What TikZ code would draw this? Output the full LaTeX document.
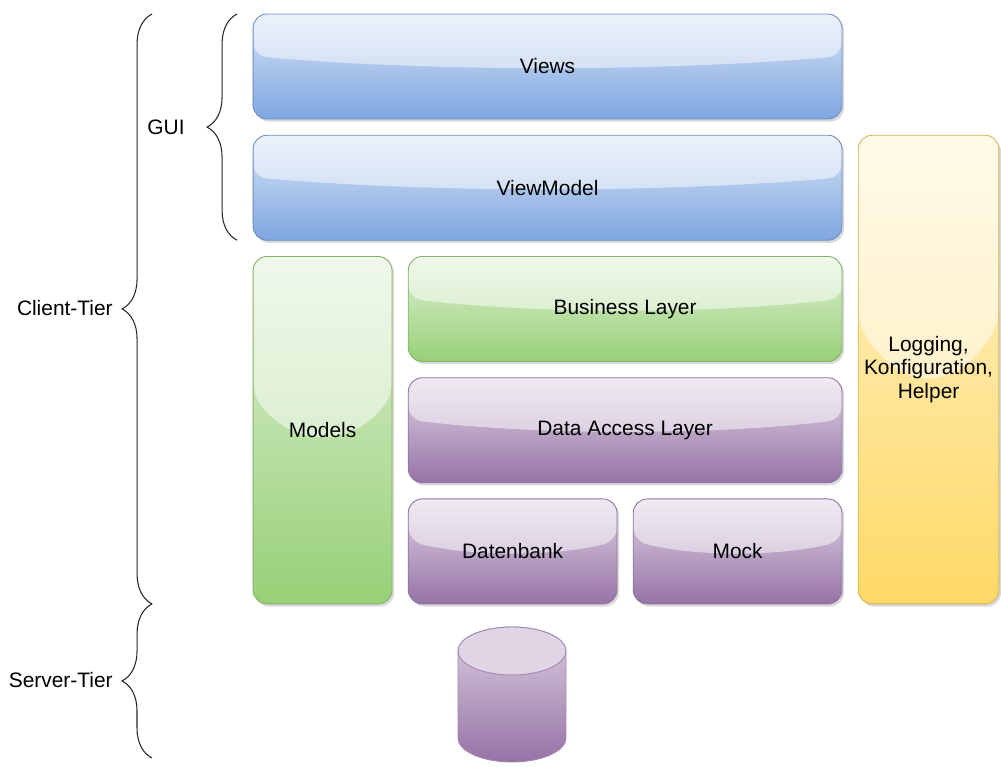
\documentclass[tikz,border=0pt]{standalone}
\usepackage{fontspec}
\setmainfont{Liberation Sans}
\usetikzlibrary{positioning,calc,shadows,decorations.pathreplacing}

\definecolor{guiblue}{HTML}{7EA6E0}
\definecolor{guibluedark}{HTML}{6C8EBF}
\definecolor{modelgreen}{HTML}{97D077}
\definecolor{modelgreendark}{HTML}{82B366}
\definecolor{datapurple}{HTML}{9673A6}
\definecolor{datapurpledark}{HTML}{8E74A0}
\definecolor{helperyellow}{HTML}{FFD966}
\definecolor{helperyellowdark}{HTML}{D6B656}

\tikzset{
    layer/.style={rectangle, rounded corners=0.28cm, line width=0.5pt, outer sep=0pt,
        font=\fontsize{11.9}{13.6}\selectfont, align=center,
        drop shadow={shadow xshift=1.2pt, shadow yshift=-1.5pt, opacity=0.3},
        path picture={
            \path let \p1=(path picture bounding box.north west),
                      \p2=(path picture bounding box.south east) in
                [fill=white, fill opacity=0.5]
                (\x1,\y1) -- (\x1,\y1+0.4*\y2-0.4*\y1)
                .. controls (\x1+0.3*\x2-0.3*\x1,\y1+0.55*\y2-0.55*\y1)
                       and (\x1+0.7*\x2-0.7*\x1,\y1+0.55*\y2-0.55*\y1)
                .. (\x2,\y1+0.4*\y2-0.4*\y1) -- (\x2,\y1) -- cycle;
        }},
    bluelayer/.style={layer, draw=guibluedark, top color=guiblue!30!white, bottom color=guiblue},
    greenlayer/.style={layer, draw=modelgreendark, top color=modelgreen!30!white, bottom color=modelgreen},
    purplelayer/.style={layer, draw=datapurpledark, top color=datapurple!30!white, bottom color=datapurple},
    yellowlayer/.style={layer, draw=helperyellowdark, top color=helperyellow!30!white, bottom color=helperyellow},
    tierbrace/.style={decorate, decoration={brace, amplitude=#1}, line width=0.6pt, black!85},
    tierlabel/.style={anchor=east, inner sep=0pt, font=\fontsize{11.9}{13.6}\selectfont}
}

\begin{document}
\begin{tikzpicture}[x=0.02cm, y=-0.02cm, node distance=0.325cm]

    \useasboundingbox (0,0) rectangle (1001,767);

    % GUI
    \node[bluelayer, minimum width=11.78cm, minimum height=2.1cm] (views) at (547.5,66.5) {Views};
    \node[bluelayer, minimum width=11.78cm, minimum height=2.1cm, below=of views] (viewmodel) {ViewModel};

    % Client layers
    \node[greenlayer, minimum width=2.78cm, minimum height=6.95cm, below=of viewmodel.south west, anchor=north west] (models) {Models};
    \node[greenlayer, minimum width=8.675cm, minimum height=2.1cm, below=of viewmodel.south east, anchor=north east] (business) {Business Layer};
    \node[purplelayer, minimum width=8.675cm, minimum height=2.1cm, below=of business] (dataaccess) {Data Access Layer};
    \node[purplelayer, minimum width=4.175cm, minimum height=2.1cm, below=of dataaccess.south west, anchor=north west] (datenbank) {Datenbank};
    \node[purplelayer, minimum width=4.175cm, minimum height=2.1cm, below=of dataaccess.south east, anchor=north east] (mock) {Mock};

    % Cross-cutting
    \node[yellowlayer, minimum width=2.8cm, minimum height=9.375cm, right=of viewmodel.north east, anchor=north west] (logging) {Logging,\\Konfiguration,\\Helper};

    % Server database
    \coordinate (dbtop) at (512,651);
    \draw[draw=datapurple!85, top color=datapurple!35!white, bottom color=datapurple, line width=0.5pt]
        (458,651) -- (458,738) arc[start angle=180, end angle=360, x radius=1.08cm, y radius=0.48cm]
        -- (566,651) arc[start angle=0, end angle=180, x radius=1.08cm, y radius=0.48cm] -- cycle;
    \draw[draw=datapurple!85, fill=datapurple!30!white, line width=0.5pt] (dbtop) ellipse[x radius=1.08cm, y radius=0.48cm];

    % Tiers
    \coordinate (serverbottom) at (152,758);
    \draw[tierbrace=0.6cm] ($(viewmodel.south west)+(-16,0)$) -- ($(views.north west)+(-16,0)$);
    \draw[tierbrace=0.6cm] ($(models.south west)+(-101,0)$) -- ($(views.north west)+(-101,0)$);
    \draw[tierbrace=0.6cm] (serverbottom) -- ($(models.south west)+(-101,0)$);

    \node[tierlabel] (guilabel) at (185,127) {GUI};
    \node[tierlabel] (clientlabel) at (113,308) {Client-Tier};
    \node[tierlabel] (serverlabel) at (113,680) {Server-Tier};

\end{tikzpicture}
\end{document}
